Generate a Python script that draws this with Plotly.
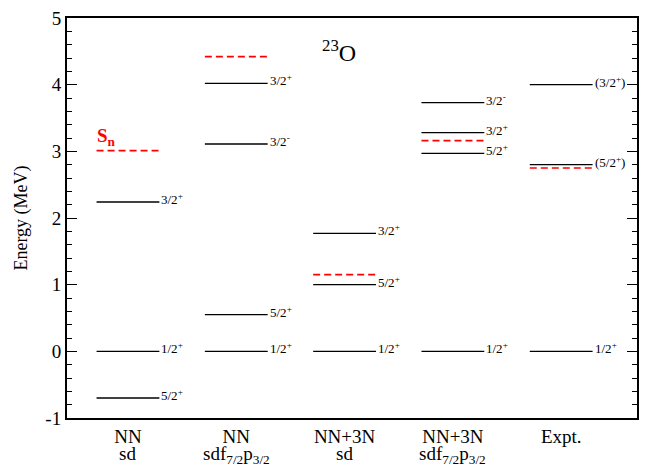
import plotly.graph_objects as go

# ---- data ----
categories_line1 = ["NN", "NN", "NN+3N", "NN+3N", "Expt."]
categories_line2 = ["sd", "sdf<sub>7/2</sub>p<sub>3/2</sub>", "sd",
                    "sdf<sub>7/2</sub>p<sub>3/2</sub>", ""]
cat_pos = [1, 2, 3, 4, 5]

levels_nn_sd = [-0.70, 0.0, 2.24]
labels_nn_sd = ["5/2<sup>+</sup>", "1/2<sup>+</sup>", "3/2<sup>+</sup>"]

levels_nn_sdfp = [0.0, 0.55, 3.11, 4.02]
labels_nn_sdfp = ["1/2<sup>+</sup>", "5/2<sup>+</sup>", "3/2<sup>-</sup>", "3/2<sup>+</sup>"]

levels_3n_sd = [0.0, 1.00, 1.77]
labels_3n_sd = ["1/2<sup>+</sup>", "5/2<sup>+</sup>", "3/2<sup>+</sup>"]

levels_3n_sdfp = [0.0, 2.97, 3.28, 3.73]
labels_3n_sdfp = ["1/2<sup>+</sup>", "5/2<sup>+</sup>", "3/2<sup>+</sup>", "3/2<sup>-</sup>"]

levels_expt = [0.0, 2.80, 4.00]
labels_expt = ["1/2<sup>+</sup>", "(5/2<sup>+</sup>)", "(3/2<sup>+</sup>)"]

sn_values = [3.01, 4.42, 1.15, 3.16, 2.75]

yticks = [-1, 0, 1, 2, 3, 4, 5]
ytick_text = ["-1", "0", "1", "2", "3", "4", "5"]

all_levels = [levels_nn_sd, levels_nn_sdfp, levels_3n_sd, levels_3n_sdfp, levels_expt]
all_labels = [labels_nn_sd, labels_nn_sdfp, labels_3n_sd, labels_3n_sdfp, labels_expt]

HW = 0.29
FONT = "Liberation Serif"

fig = go.Figure()
annotations = []
for c, lev, lab in zip(cat_pos, all_levels, all_labels):
    for e, t in zip(lev, lab):
        fig.add_trace(go.Scatter(x=[c - HW, c + HW], y=[e, e], mode="lines",
                                 line=dict(color="black", width=1.3),
                                 showlegend=False, hoverinfo="skip"))
        annotations.append(dict(x=c + HW, y=e, xref="x", yref="y", text=t,
                                showarrow=False, xanchor="left", yanchor="middle",
                                xshift=0, yshift=3,
                                font=dict(family=FONT, size=13, color="black")))

for c, s in zip(cat_pos, sn_values):
    fig.add_trace(go.Scatter(x=[c - HW, c + HW], y=[s, s], mode="lines",
                             line=dict(color="red", width=1.6, dash="7px,4px"),
                             showlegend=False, hoverinfo="skip"))

for c, t in zip(cat_pos, categories_line2):
    if t:
        annotations.append(dict(x=c, y=0, xref="x", yref="paper", text=t,
                                showarrow=False, xanchor="center", yanchor="top",
                                yshift=-23,
                                font=dict(family=FONT, size=19, color="black")))

annotations.append(dict(x=1 - HW, y=sn_values[0], xref="x", yref="y",
                        text="<b>S<sub>n</sub></b>", showarrow=False,
                        xanchor="left", yanchor="bottom", xshift=-2, yshift=0,
                        font=dict(family=FONT, size=19, color="red")))
annotations.append(dict(x=2.95, y=4.5, xref="x", yref="y",
                        text="<sup>23</sup>O", showarrow=False,
                        xanchor="center", yanchor="middle",
                        font=dict(family=FONT, size=24, color="black")))

fig.update_layout(
    width=647, height=470,
    margin=dict(l=67, r=10, t=18, b=52),
    paper_bgcolor="white", plot_bgcolor="white",
    font=dict(family=FONT, color="black"),
    annotations=annotations,
    xaxis=dict(range=[0.437, 5.70], tickvals=cat_pos, ticktext=categories_line1,
               showline=True, linecolor="black", linewidth=2, mirror=True,
               ticks="", showgrid=False, zeroline=False, automargin=False,
               tickfont=dict(family=FONT, size=19, color="black")),
    yaxis=dict(range=[-1, 5], tickvals=yticks, ticktext=ytick_text,
               showline=True, linecolor="black", linewidth=2, mirror="ticks",
               ticks="inside", ticklen=10, tickwidth=1.3, tickcolor="black",
               minor=dict(dtick=0.2, ticks="inside", ticklen=5, tickwidth=1, tickcolor="black"),
               showgrid=False, zeroline=False, automargin=False,
               tickfont=dict(family=FONT, size=19, color="black"),
               title=dict(text="Energy (MeV)", standoff=13,
                          font=dict(family=FONT, size=18, color="black"))),
)

fig.write_html("out.html", config={"displayModeBar": False},
               post_script="document.body.style.margin='0';document.body.style.overflow='hidden';")
